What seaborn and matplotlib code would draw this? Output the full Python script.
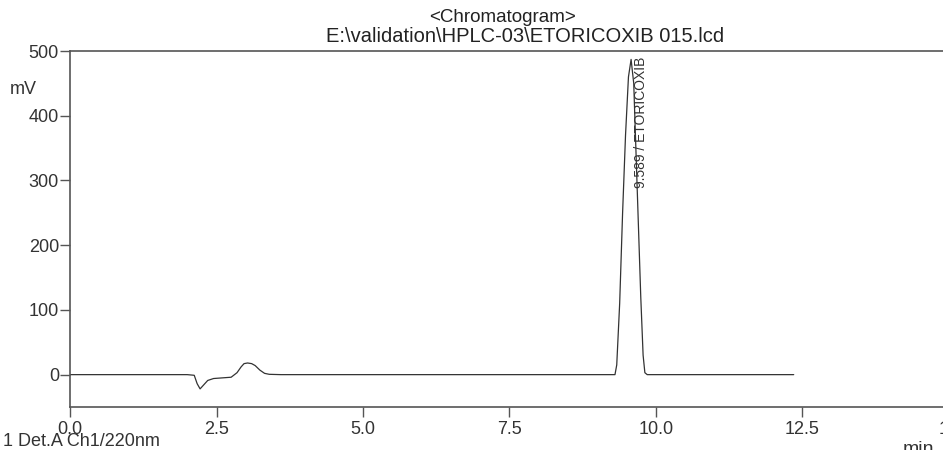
import matplotlib
matplotlib.use("Agg")
import matplotlib.pyplot as plt
import seaborn as sns
import pandas as pd

# chromatogram trace (time in min, signal in mV)
time_min = [0.0, 1.0, 2.0, 2.12, 2.17, 2.22, 2.28, 2.35, 2.45, 2.6, 2.75, 2.85, 2.92,
            2.97, 3.03, 3.10, 3.16, 3.24, 3.32, 3.40, 3.6, 5.0, 7.0, 9.0, 9.30,
            9.33, 9.38, 9.43, 9.48, 9.53, 9.575, 9.62, 9.66, 9.70, 9.74, 9.78, 9.81,
            9.85, 10.5, 11.5, 12.35]
signal_mv = [0.0, 0.0, 0.0, -1.0, -14.0, -22.0, -16.0, -9.0, -6.0, -5.0, -4.0, 3.0, 12.0,
             17.0, 18.0, 17.0, 14.0, 7.0, 2.0, 0.5, 0.0, 0.0, 0.0, 0.0, 0.0,
             15.0, 110.0, 250.0, 370.0, 460.0, 487.0, 450.0, 340.0, 230.0, 120.0, 30.0, 3.0,
             0.0, 0.0, 0.0, 0.0]

peak_time = 9.589
peak_label = "9.589 / ETORICOXIB"
x_ticks = [0.0, 2.5, 5.0, 7.5, 10.0, 12.5, 15.0]
x_tick_labels = ["0.0", "2.5", "5.0", "7.5", "10.0", "12.5", "15"]
y_ticks = [0, 100, 200, 300, 400, 500]

sns.set_style("white")
plt.rcParams["font.family"] = ["Liberation Sans", "DejaVu Sans"]

fig = plt.figure(figsize=(9.43, 4.5), dpi=100)
ax = fig.add_axes([70 / 943, (450 - 407) / 450, 879 / 943, (407 - 51) / 450])

df = pd.DataFrame({"t": time_min, "mV": signal_mv})
sns.lineplot(data=df, x="t", y="mV", ax=ax, color="#333333", linewidth=0.9)

ax.set_xlim(0, 15)
ax.set_ylim(-50, 500)
ax.set_xticks(x_ticks)
ax.set_xticklabels(x_tick_labels)
ax.set_yticks(y_ticks)
ax.set_xlabel("")
ax.set_ylabel("")
for s in ["left", "bottom", "top"]:
    ax.spines[s].set_visible(True)
    ax.spines[s].set_color("#555555")
    ax.spines[s].set_linewidth(1.2)
ax.spines["right"].set_visible(False)
ax.tick_params(axis="both", which="major", bottom=True, left=True, top=False, right=False,
               direction="out", length=7, width=1, color="#555555",
               labelsize=13, labelcolor="#333333")
ax.tick_params(axis="x", pad=3)
ax.tick_params(axis="y", pad=1)
for lbl in ax.get_xticklabels():
    lbl.set_clip_on(False)

ax.text(9.75, 492, peak_label, rotation=90, ha="center", va="top",
        fontsize=10, color="#333333")

fig.text(502 / 943, 1 - 18 / 450, "<Chromatogram>", ha="center", va="center",
         fontsize=13.5, color="#222222")
fig.text(525 / 943, 1 - 36 / 450, "E:\\validation\\HPLC-03\\ETORICOXIB 015.lcd",
         ha="center", va="center", fontsize=14.5, color="#222222")
fig.text(10 / 943, 1 - 89 / 450, "mV", ha="left", va="center", fontsize=13, color="#333333")
fig.text(3 / 943, 1 - 441 / 450, "1 Det.A Ch1/220nm", ha="left", va="center",
         fontsize=13, color="#333333")
fig.text(903 / 943, 1 - 449 / 450, "min", ha="left", va="center", fontsize=14,
         color="#333333")

fig.savefig("out.png", dpi=100)
